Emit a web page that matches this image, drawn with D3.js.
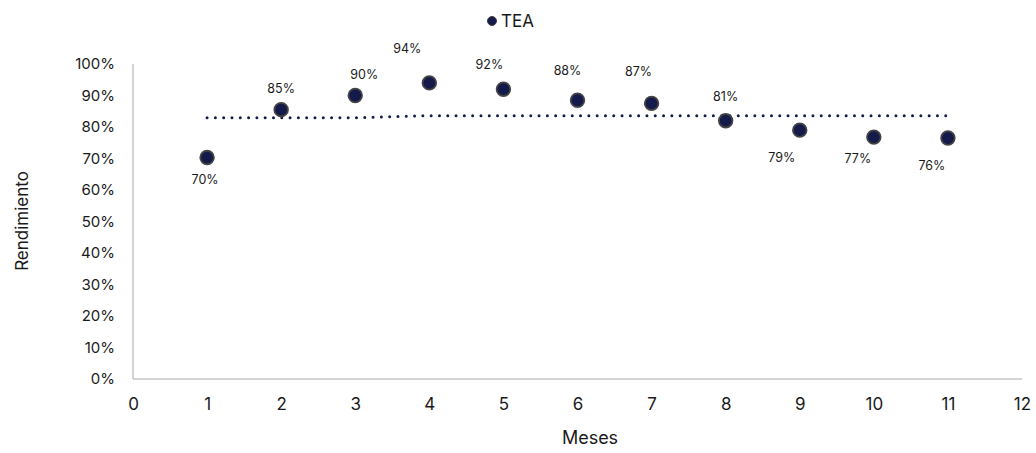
<!DOCTYPE html>
<html><head><meta charset="utf-8">
<script src="https://cdn.jsdelivr.net/npm/d3@7"></script>
<style>
body{margin:0;background:#fff;}
text{font-family:Inter, "Open Sans", sans-serif;fill:#1a1a1a;}
</style></head>
<body><svg id="c" width="1036" height="453"></svg>
<script>
const months = [1,2,3,4,5,6,7,8,9,10,11];
const tea = [0.703,0.855,0.90,0.94,0.92,0.885,0.875,0.82,0.79,0.768,0.765];
const teaLabels = ["70%","85%","90%","94%","92%","88%","87%","81%","79%","77%","76%"];
const avgLine = [0.829,0.829,0.829,0.836,0.836,0.836,0.836,0.836,0.836,0.836,0.836];
const xTicks = [0,1,2,3,4,5,6,7,8,9,10,11,12];
const yTicks = [0,0.1,0.2,0.3,0.4,0.5,0.6,0.7,0.8,0.9,1.0];
// label offsets (layout only)
const labelDx = [-2,0,9,-22,-14,-10,-13,0,-18,-16,-16];
const labelDy = [22,-21,-21,-34,-25,-30,-32,-24,27,22,28];

const svg = d3.select("#c");
const x = d3.scaleLinear().domain([0,12]).range([133,1022]);
const y = d3.scaleLinear().domain([0,1]).range([379,64]);

// axes
svg.append("line").attr("x1",x(0)).attr("x2",x(12)).attr("y1",y(0)).attr("y2",y(0))
  .attr("stroke","#c6c6c6").attr("stroke-width",1.5);
svg.append("line").attr("x1",x(0)).attr("x2",x(0)).attr("y1",y(0)).attr("y2",y(1))
  .attr("stroke","#c6c6c6").attr("stroke-width",1.5);

const ya = svg.append("g").attr("transform",`translate(${x(0)},0)`)
  .call(d3.axisLeft(y).tickValues(yTicks).tickFormat(d3.format(".0%")).tickSize(0).tickPadding(18));
ya.select(".domain").remove();
ya.selectAll("text").attr("font-size",15).attr("font-family","Inter, sans-serif").attr("fill","#1a1a1a");

const xa = svg.append("g").attr("transform",`translate(0,${y(0)})`)
  .call(d3.axisBottom(x).tickValues(xTicks).tickFormat(d3.format("d")).tickSize(0).tickPadding(19));
xa.select(".domain").remove();
xa.selectAll("text").attr("font-size",17).attr("font-family","Inter, sans-serif").attr("fill","#1a1a1a");

// titles
svg.append("text").attr("x",590).attr("y",444).attr("text-anchor","middle").attr("font-size",18).text("Meses");
svg.append("text").attr("transform","translate(28,221) rotate(-90)").attr("text-anchor","middle").attr("font-size",17).text("Rendimiento");

// average dotted line
const line = d3.line().x((d,i)=>x(months[i])).y(d=>y(d));
svg.append("path").datum(avgLine).attr("d",line).attr("fill","none")
  .attr("stroke","#141a4a").attr("stroke-width",3).attr("stroke-linecap","round")
  .attr("stroke-dasharray","0 8.3");

// points
svg.selectAll("circle.pt").data(tea).enter().append("circle").attr("class","pt")
  .attr("cx",(d,i)=>x(months[i])).attr("cy",d=>y(d)).attr("r",6.8)
  .attr("fill","#141a4a").attr("stroke","#444").attr("stroke-width",1.8);

// labels
svg.selectAll("text.lbl").data(tea).enter().append("text").attr("class","lbl")
  .attr("x",(d,i)=>x(months[i])+labelDx[i]).attr("y",(d,i)=>y(d)+labelDy[i])
  .attr("dy","0.35em").attr("text-anchor","middle").attr("font-size",12.5)
  .text((d,i)=>teaLabels[i]);

// legend
svg.append("circle").attr("cx",492).attr("cy",21).attr("r",4.5).attr("fill","#141a4a").attr("stroke","#404040").attr("stroke-width",1);
svg.append("text").attr("x",501).attr("y",21).attr("dy","0.35em").attr("font-size",17).text("TEA");
</script></body></html>
